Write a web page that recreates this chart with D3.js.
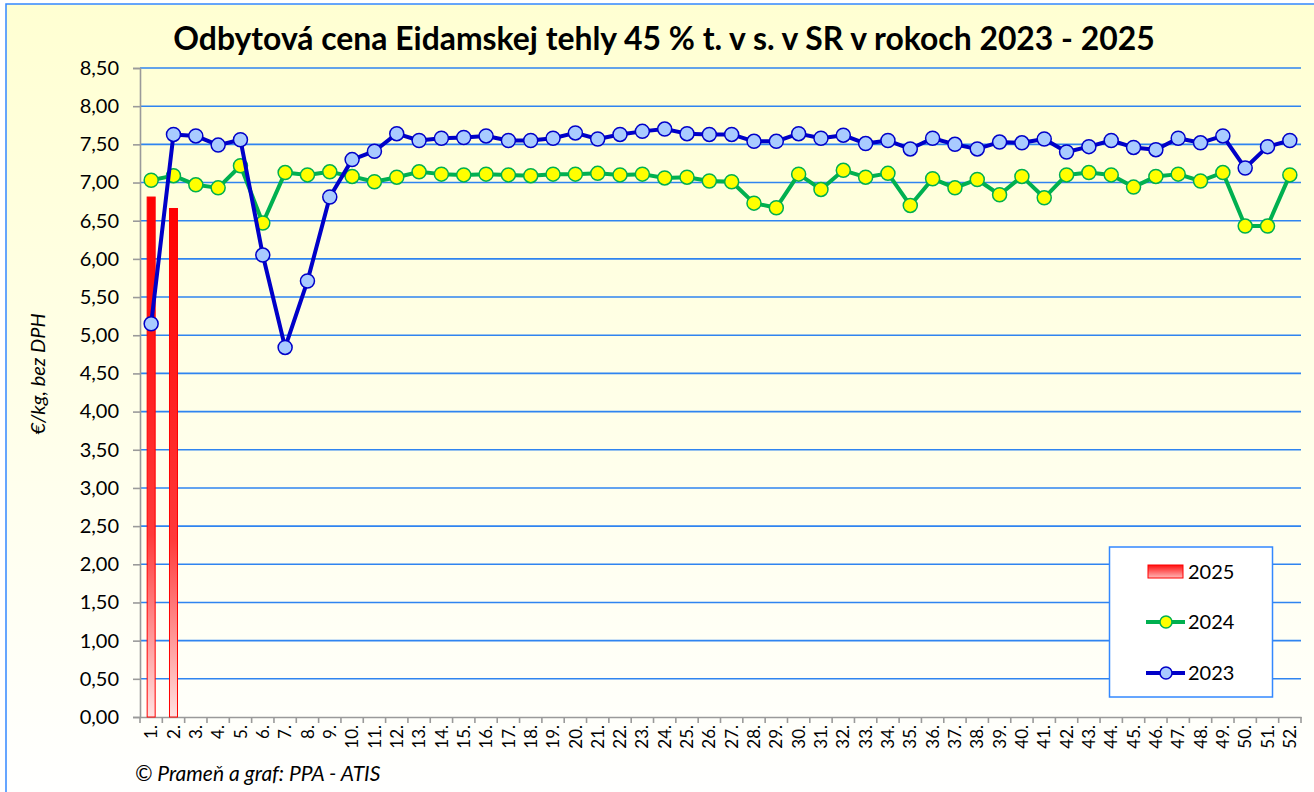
<!DOCTYPE html>
<html>
<head>
<meta charset="utf-8">
<script src="https://cdn.jsdelivr.net/npm/d3@7"></script>
<style>
  html, body { margin: 0; padding: 0; background: #ffffff; }
  svg { display: block; }
  text { font-family: Lato, "Noto Sans", sans-serif; fill: #000; }
</style>
</head>
<body>
<svg id="chart" width="1314" height="792"></svg>
<script>
const titleText = "Odbytová cena Eidamskej tehly 45 % t. v s. v SR v rokoch 2023 - 2025";
const yAxisTitle = "€/kg, bez DPH";
const sourceText = "© Prameň a graf: PPA - ATIS";

const weeks = ["1.","2.","3.","4.","5.","6.","7.","8.","9.","10.","11.","12.","13.","14.","15.","16.","17.","18.","19.","20.","21.","22.","23.","24.","25.","26.","27.","28.","29.","30.","31.","32.","33.","34.","35.","36.","37.","38.","39.","40.","41.","42.","43.","44.","45.","46.","47.","48.","49.","50.","51.","52."];

const yTicks = [0, 0.5, 1, 1.5, 2, 2.5, 3, 3.5, 4, 4.5, 5, 5.5, 6, 6.5, 7, 7.5, 8, 8.5];

const y2025 = [6.81, 6.66];

const y2024 = [7.03, 7.09, 6.97, 6.93, 7.22, 6.47, 7.13, 7.10, 7.14, 7.08,
               7.01, 7.07, 7.14, 7.11, 7.10, 7.11, 7.10, 7.09, 7.11, 7.11,
               7.12, 7.10, 7.11, 7.06, 7.07, 7.02, 7.01, 6.73, 6.67, 7.11,
               6.91, 7.16, 7.07, 7.12, 6.70, 7.05, 6.93, 7.04, 6.84, 7.08,
               6.80, 7.10, 7.13, 7.10, 6.94, 7.08, 7.11, 7.02, 7.13, 6.43,
               6.43, 7.10];

const y2023 = [5.15, 7.63, 7.61, 7.49, 7.56, 6.05, 4.84, 5.71, 6.81, 7.30,
               7.41, 7.64, 7.55, 7.58, 7.59, 7.61, 7.55, 7.55, 7.58, 7.65,
               7.57, 7.63, 7.67, 7.70, 7.64, 7.63, 7.63, 7.54, 7.54, 7.64,
               7.58, 7.62, 7.51, 7.55, 7.44, 7.58, 7.50, 7.44, 7.53, 7.52,
               7.57, 7.40, 7.47, 7.55, 7.46, 7.43, 7.58, 7.52, 7.61, 7.19,
               7.47, 7.55];

const seriesNames = ["2025", "2024", "2023"];

const svg = d3.select("#chart");
const defs = svg.append("defs");

const bg = defs.append("linearGradient").attr("id", "bgGrad")
  .attr("x1", 0).attr("y1", 0).attr("x2", 0).attr("y2", 1);
bg.append("stop").attr("offset", "0%").attr("stop-color", "#FFFFD2");
bg.append("stop").attr("offset", "100%").attr("stop-color", "#FFFFFF");

const barGrad = defs.append("linearGradient").attr("id", "barGrad")
  .attr("x1", 0).attr("y1", 0).attr("x2", 0).attr("y2", 1);
barGrad.append("stop").attr("offset", "0%").attr("stop-color", "#FF0000");
barGrad.append("stop").attr("offset", "65%").attr("stop-color", "#FF3A3A");
barGrad.append("stop").attr("offset", "100%").attr("stop-color", "#FFE2E2");

const legGrad = defs.append("linearGradient").attr("id", "legGrad")
  .attr("x1", 0).attr("y1", 0).attr("x2", 0).attr("y2", 1);
legGrad.append("stop").attr("offset", "0%").attr("stop-color", "#FF1010");
legGrad.append("stop").attr("offset", "100%").attr("stop-color", "#FFB8B8");

// chart background and border
svg.append("rect").attr("x", 6).attr("y", 4).attr("width", 1320).attr("height", 800)
  .attr("fill", "url(#bgGrad)").attr("stroke", "#3388FF").attr("stroke-width", 1.5);

const plot = { left: 140, right: 1301, top: 68, bottom: 717 };

const x = d3.scaleBand().domain(weeks).range([plot.left, plot.right]).padding(0);
const y = d3.scaleLinear().domain([0, 8.5]).range([plot.bottom, plot.top]);

// gridlines
svg.append("g").selectAll("line").data(yTicks.filter(d => d > 0)).join("line")
  .attr("x1", plot.left).attr("x2", plot.right)
  .attr("y1", d => y(d)).attr("y2", d => y(d))
  .attr("stroke", "#2F84F0").attr("stroke-width", 1.6);

// y axis
const yAxis = d3.axisLeft(y).tickValues(yTicks).tickSize(7).tickPadding(14)
  .tickFormat(d => d3.format(".2f")(d).replace(".", ","));
const yg = svg.append("g").attr("transform", `translate(${plot.left},0)`).call(yAxis);
yg.select(".domain").attr("stroke", "#9A9A9A").attr("stroke-width", 1.6);
yg.selectAll(".tick line").attr("stroke", "#9A9A9A").attr("stroke-width", 1.6);
yg.selectAll(".tick text").attr("font-family", "Lato, 'Noto Sans', sans-serif")
  .attr("font-size", 20).attr("fill", "#000");

// x axis
const xAxis = d3.axisBottom(x).tickSize(0).tickPadding(0);
const xg = svg.append("g").attr("transform", `translate(0,${plot.bottom})`).call(xAxis);
xg.select(".domain").attr("stroke", "#9A9A9A").attr("stroke-width", 1.6);
xg.selectAll(".tick text")
  .attr("font-family", "Lato, 'Noto Sans', sans-serif").attr("font-size", 17).attr("fill", "#000")
  .attr("text-anchor", "end")
  .attr("transform", "rotate(-90)")
  .attr("x", -8).attr("y", 0).attr("dy", "0.36em");
// tick marks at band boundaries
const bounds = weeks.map(w => x(w)).concat([x(weeks[weeks.length - 1]) + x.bandwidth()]);
svg.append("g").selectAll("line").data(bounds).join("line")
  .attr("x1", d => d).attr("x2", d => d)
  .attr("y1", plot.bottom).attr("y2", plot.bottom + 6)
  .attr("stroke", "#9A9A9A").attr("stroke-width", 1.6);

// 2025 bars
const barW = 8;
svg.append("g").selectAll("rect").data(y2025).join("rect")
  .attr("x", (d, i) => x(weeks[i]) + x.bandwidth() / 2 - barW / 2)
  .attr("y", d => y(d))
  .attr("width", barW)
  .attr("height", d => y(0) - y(d))
  .attr("fill", "url(#barGrad)")
  .attr("stroke", "#FF0000").attr("stroke-width", 1);

const cx = (d, i) => x(weeks[i]) + x.bandwidth() / 2;
const line = d3.line().x(cx).y(d => y(d));

// 2024
svg.append("path").datum(y2024).attr("d", line)
  .attr("fill", "none").attr("stroke", "#00B050").attr("stroke-width", 4)
  .attr("stroke-linejoin", "round");
svg.append("g").selectAll("circle").data(y2024).join("circle")
  .attr("cx", cx).attr("cy", d => y(d)).attr("r", 7)
  .attr("fill", "#FFFF00").attr("stroke", "#00B050").attr("stroke-width", 1.5);

// 2023
svg.append("path").datum(y2023).attr("d", line)
  .attr("fill", "none").attr("stroke", "#0000C8").attr("stroke-width", 4)
  .attr("stroke-linejoin", "round");
svg.append("g").selectAll("circle").data(y2023).join("circle")
  .attr("cx", cx).attr("cy", d => y(d)).attr("r", 7)
  .attr("fill", "#A9CBFF").attr("stroke", "#0000C8").attr("stroke-width", 1.5);

// title
const title = svg.append("text").attr("x", 664).attr("y", 50)
  .attr("text-anchor", "middle").attr("font-weight", "bold")
  .attr("font-family", "Lato, 'Noto Sans', sans-serif")
  .attr("font-size", 30).text(titleText);
const tw = title.node().getComputedTextLength();
if (tw > 0) title.attr("font-size", 30 * 982 / tw);

// y axis title
svg.append("text")
  .attr("transform", "translate(45,374) rotate(-90)")
  .attr("text-anchor", "middle").attr("font-style", "italic")
  .attr("font-size", 20).text(yAxisTitle);

// source
svg.append("text").attr("x", 135).attr("y", 781)
  .attr("font-style", "italic").attr("font-size", 21).text(sourceText);

// legend
const lg = svg.append("g");
lg.append("rect").attr("x", 1109.5).attr("y", 547).attr("width", 163).attr("height", 150)
  .attr("fill", "#FFFFFF").attr("stroke", "#3388FF").attr("stroke-width", 1.5);
const legY = [572, 622, 673];
// 2025 swatch
lg.append("rect").attr("x", 1148).attr("y", legY[0] - 7).attr("width", 35).attr("height", 13)
  .attr("fill", "url(#legGrad)").attr("stroke", "#FF0000").attr("stroke-width", 1);
// 2024
lg.append("line").attr("x1", 1146).attr("x2", 1185).attr("y1", legY[1]).attr("y2", legY[1])
  .attr("stroke", "#00B050").attr("stroke-width", 4);
lg.append("circle").attr("cx", 1166).attr("cy", legY[1]).attr("r", 6)
  .attr("fill", "#FFFF00").attr("stroke", "#00B050").attr("stroke-width", 1.5);
// 2023
lg.append("line").attr("x1", 1146).attr("x2", 1185).attr("y1", legY[2]).attr("y2", legY[2])
  .attr("stroke", "#0000C8").attr("stroke-width", 4);
lg.append("circle").attr("cx", 1166).attr("cy", legY[2]).attr("r", 6)
  .attr("fill", "#A9CBFF").attr("stroke", "#0000C8").attr("stroke-width", 1.5);
lg.selectAll("text.leg").data(seriesNames).join("text").attr("class", "leg")
  .attr("x", 1188).attr("y", (d, i) => legY[i]).attr("dy", "0.36em")
  .attr("font-size", 20).text(d => d);
</script>
</body>
</html>
